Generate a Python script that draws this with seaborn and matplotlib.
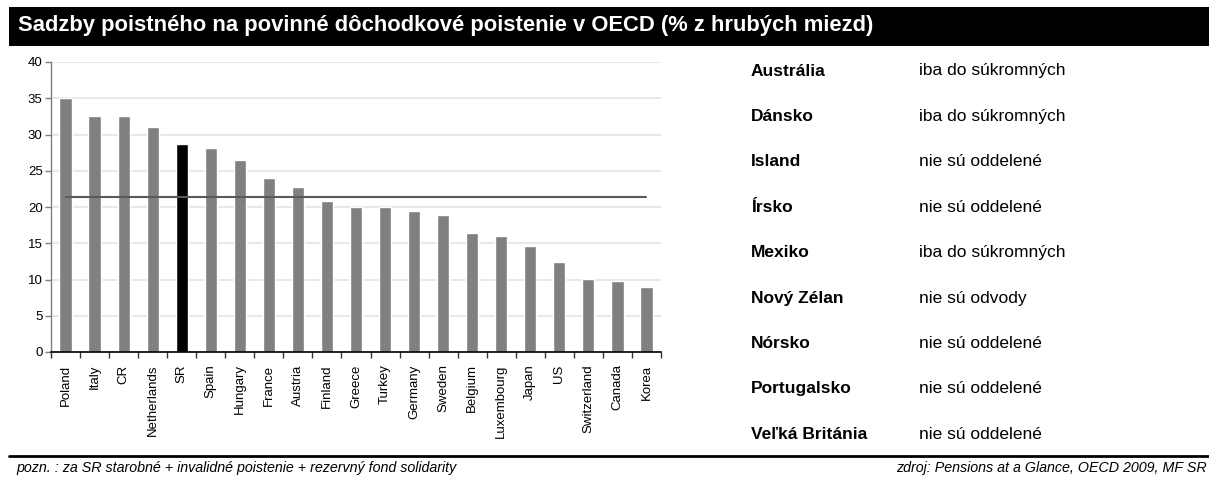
"""Sadzby poistneho na povinne dochodkove poistenie v OECD."""

import matplotlib

matplotlib.use("Agg")

import matplotlib.pyplot as plt
import pandas as pd
import seaborn as sns
from matplotlib.lines import Line2D
from matplotlib.patches import Rectangle

countries = ["Poland", "Italy", "CR", "Netherlands", "SR", "Spain", "Hungary", "France",
             "Austria", "Finland", "Greece", "Turkey", "Germany", "Sweden", "Belgium",
             "Luxembourg", "Japan", "US", "Switzerland", "Canada", "Korea"]
rates = [35.0, 32.6, 32.5, 31.0, 28.65, 28.2, 26.5, 24.0, 22.8, 20.8, 20.0, 20.0,
         19.45, 18.9, 16.4, 16.0, 14.6, 12.4, 10.1, 9.8, 9.0]
oecd_avg = 21.4
highlight = "SR"

table_countries = ["Austrália", "Dánsko", "Island", "Írsko", "Mexiko", "Nový Zélan",
                   "Nórsko", "Portugalsko", "Veľká Británia"]
table_notes = ["iba do súkromných", "iba do súkromných", "nie sú oddelené", "nie sú oddelené",
               "iba do súkromných", "nie sú odvody", "nie sú oddelené", "nie sú oddelené",
               "nie sú oddelené"]

TITLE = "Sadzby poistného na povinné dôchodkové poistenie v OECD (% z hrubých miezd)"
NOTE = "pozn. : za SR starobné + invalidné poistenie + rezervný fond solidarity"
SOURCE = "zdroj: Pensions at a Glance, OECD 2009, MF SR"

sns.set_theme(style="white")
plt.rcParams["font.family"] = ["Liberation Sans Narrow", "Liberation Sans", "DejaVu Sans"]
plt.rcParams["text.color"] = "black"

df = pd.DataFrame({"country": countries, "rate": rates})
palette = {c: ("#000000" if c == highlight else "#808080") for c in countries}

W, H = 1209, 479
fig = plt.figure(figsize=(W / 100, H / 100), dpi=100)

# titulkovy pas
fig.patches.append(Rectangle((9 / W, 1 - 46 / H), 1 - 9 / W, 39 / H, transform=fig.transFigure,
                             facecolor="black", edgecolor="none", zorder=0))
fig.text(18 / W, 1 - 26 / H, TITLE, color="white", fontsize=15.8, fontweight="bold",
         va="center", ha="left")

ax = fig.add_axes([51 / W, 1 - 352 / H, 610 / W, 290 / H])
sns.barplot(data=df, x="country", y="rate", hue="country", palette=palette, legend=False,
            width=0.42, saturation=1, ax=ax, zorder=2)
ax.plot(countries, [oecd_avg] * len(countries), color="#5a5a5a", linewidth=1.5, zorder=3)

ax.set_xlim(-0.5, len(countries) - 0.5)
ax.set_ylim(0, 40)
ax.set_yticks(range(0, 41, 5))
ax.grid(True, axis="y", color="#e4e4e4", linewidth=1.2, zorder=0)
ax.set_axisbelow(True)
ax.set_xlabel("")
ax.set_ylabel("")
for side in ("top", "right"):
    ax.spines[side].set_visible(False)
ax.spines["left"].set_color("#7f7f7f")
ax.spines["bottom"].set_color("black")
ax.spines["left"].set_linewidth(1.0)
ax.spines["bottom"].set_linewidth(1.2)

ax.tick_params(axis="y", left=True, length=4, width=1, color="#7f7f7f", labelsize=9.5,
               labelcolor="black", pad=2)
ax.tick_params(axis="x", which="major", bottom=False, length=0, labelsize=9.5,
               labelrotation=90, labelcolor="black", pad=9)
ax.set_xticks([i + 0.5 for i in range(-1, len(countries))], minor=True)
ax.tick_params(axis="x", which="minor", bottom=True, length=4, width=1, color="#333333")

# tabulka vpravo
for i, (name, note) in enumerate(zip(table_countries, table_notes)):
    y = 1 - (71 + i * 45.4) / H
    fig.text(751 / W, y, name, fontsize=12.5, fontweight="bold", va="center", ha="left")
    fig.text(919 / W, y, note, fontsize=12.5, va="center", ha="left")

fig.lines.append(Line2D([9 / W, 1], [1 - 456 / H, 1 - 456 / H], transform=fig.transFigure,
                        color="black", linewidth=2))
fig.text(16 / W, 1 - 468 / H, NOTE, fontsize=10.3, style="italic", va="center", ha="left")
fig.text(1207 / W, 1 - 468 / H, SOURCE, fontsize=10.3, style="italic", va="center", ha="right")

fig.savefig("out.png", dpi=100)
